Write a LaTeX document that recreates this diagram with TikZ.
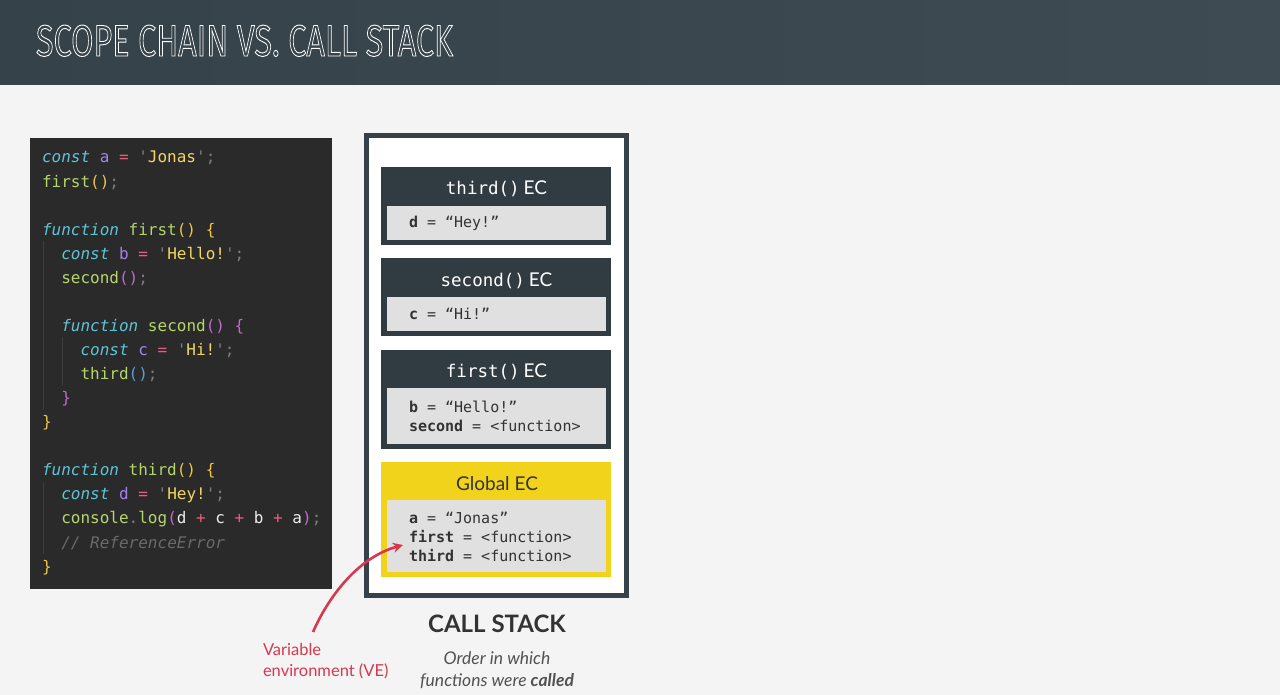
\documentclass[tikz,border=0pt]{standalone}
\usepackage{fontspec}
\usepackage{graphicx}
\usetikzlibrary{arrows.meta}
\setmainfont{Lato}
\setmonofont{DejaVu Sans Mono}
\newfontfamily\titlefont{Fira Sans}

% palette
\definecolor{bgcol}{HTML}{F4F4F4}
\definecolor{hdrA}{HTML}{35424A}
\definecolor{hdrB}{HTML}{3F4B52}
\definecolor{panelcol}{HTML}{2A2A2A}
\definecolor{guidecol}{HTML}{3E3E3E}
\definecolor{kwcol}{HTML}{5EC4D6}
\definecolor{varcol}{HTML}{A183F0}
\definecolor{opcol}{HTML}{EE5A80}
\definecolor{strcol}{HTML}{F2D665}
\definecolor{punct}{HTML}{7D7D7D}
\definecolor{fncol}{HTML}{B5D56E}
\definecolor{plaincol}{HTML}{ECECEC}
\definecolor{cmtcol}{HTML}{6A6A6A}
\definecolor{lvA}{HTML}{ECC443}
\definecolor{lvB}{HTML}{C268CC}
\definecolor{lvC}{HTML}{5A9DD8}
\definecolor{framecol}{HTML}{36424A}
\definecolor{ecdark}{HTML}{313C42}
\definecolor{ecinner}{HTML}{E0E0E0}
\definecolor{ecyellow}{HTML}{F2D31C}
\definecolor{inktext}{HTML}{333333}
\definecolor{vecol}{HTML}{D6384F}

% syntax highlighting helpers
\newcommand\ckw[1]{\textcolor{kwcol}{\itshape #1}}
\newcommand\cvr[1]{\textcolor{varcol}{#1}}
\newcommand\cop[1]{\textcolor{opcol}{#1}}
\newcommand\cst[1]{\textcolor{punct}{\char39}\textcolor{strcol}{#1}\textcolor{punct}{\char39}}
\newcommand\cfn[1]{\textcolor{fncol}{#1}}
\newcommand\cpa[2]{\textcolor{#1}{#2}}
\newcommand\csm{\textcolor{punct}{;}}
\newcommand\cpl[1]{\textcolor{plaincol}{#1}}
\newcommand\ccm[1]{\textcolor{cmtcol}{\itshape #1}}

% outlined lettering for the heading
\newcommand\outlined[1]{\special{pdf:literal direct 1 Tr 0.9 w 1 1 1 RG}#1\special{pdf:literal direct 0 Tr}}

\begin{document}
\begin{tikzpicture}[x=1pt,y=-1pt,
  every node/.style={inner sep=0pt,outer sep=0pt},
  codeline/.style={anchor=base west,text=plaincol,font=\fontsize{16}{19}\ttfamily},
  guide/.style={draw=guidecol,line width=0.8pt},
  stackframe/.style={draw=framecol,line width=5pt,fill=white,minimum width=260pt,minimum height=460pt},
  ecbox/.style={fill=ecdark,minimum width=230pt},
  globalbox/.style={fill=ecyellow,minimum width=230pt},
  varbox/.style={fill=ecinner,minimum width=219pt},
  ectitle/.style={anchor=base,text=white},
  ecvar/.style={anchor=base west,align=left,text=inktext,font=\fontsize{15}{19}\ttfamily},
  vearrow/.style={draw=vecol,line width=2.6pt,-{Stealth[length=10pt,width=10pt]}}
]
\useasboundingbox (0,0) rectangle (1280,695);
\fill[bgcol] (0,0) rectangle (1280,695);
\shade[left color=hdrA,right color=hdrB] (0,0) rectangle (1280,85);

% heading
\node[anchor=base west,text=white] (heading) at (36,56)
  {\resizebox{417pt}{31pt}{\titlefont\fontsize{43}{43}\selectfont\outlined{SCOPE CHAIN VS. CALL STACK}}};

% code panel
\node[fill=panelcol,minimum width=302pt,minimum height=451pt] (code) at (181,363.5) {};
\draw[guide] (43,241) -- (43,409);
\draw[guide] (62,337) -- (62,385);
\draw[guide] (43,482) -- (43,554);

\node[codeline] (l0)  at (42,163)    {\ckw{const} \cvr{a} \cop{=} \cst{Jonas}\csm};
\node[codeline] (l1)  at (42,187.1)  {\cfn{first}\cpa{lvA}{()}\csm};
\node[codeline] (l3)  at (42,235.2)  {\ckw{function} \cfn{first}\cpa{lvA}{()} \cpa{lvA}{\{}};
\node[codeline] (l4)  at (61.3,259.2) {\ckw{const} \cvr{b} \cop{=} \cst{Hello!}\csm};
\node[codeline] (l5)  at (61.3,283.3) {\cfn{second}\cpa{lvB}{()}\csm};
\node[codeline] (l7)  at (61.3,331.4) {\ckw{function} \cfn{second}\cpa{lvB}{()} \cpa{lvB}{\{}};
\node[codeline] (l8)  at (80.5,355.5) {\ckw{const} \cvr{c} \cop{=} \cst{Hi!}\csm};
\node[codeline] (l9)  at (80.5,379.5) {\cfn{third}\cpa{lvC}{()}\csm};
\node[codeline] (l10) at (61.3,403.6) {\cpa{lvB}{\}}};
\node[codeline] (l11) at (42,427.7)  {\cpa{lvA}{\}}};
\node[codeline] (l13) at (42,475.8)  {\ckw{function} \cfn{third}\cpa{lvA}{()} \cpa{lvA}{\{}};
\node[codeline] (l14) at (61.3,499.8) {\ckw{const} \cvr{d} \cop{=} \cst{Hey!}\csm};
\node[codeline] (l15) at (61.3,523.9) {\cfn{console}\textcolor{punct}{.}\cfn{log}\cpa{lvB}{(}\cpl{d} \cop{+} \cpl{c} \cop{+} \cpl{b} \cop{+} \cpl{a}\cpa{lvB}{)}\csm};
\node[codeline] (l16) at (61.3,548.0) {\ccm{// ReferenceError}};
\node[codeline] (l17) at (42,572.0)  {\cpa{lvA}{\}}};

% call stack
\node[stackframe] (stack) at (496.5,365.5) {};

\node[ecbox,minimum height=78pt] (ecthird) at (496,206) {};
\node[varbox,minimum height=34pt] (vethird) at (496.5,223) {};
\node[ectitle] (tthird) at (496.5,195) {\fontsize{17.5}{20}\ttfamily third()\hspace{4pt}\fontsize{19}{22}\rmfamily EC};
\node[ecvar] (dthird) at (409,228) {\textbf{d} = “Hey!”};

\node[ecbox,minimum height=78pt] (ecsecond) at (496,297) {};
\node[varbox,minimum height=34pt] (vesecond) at (496.5,314) {};
\node[ectitle] (tsecond) at (496.5,286) {\fontsize{17.5}{20}\ttfamily second()\hspace{4pt}\fontsize{19}{22}\rmfamily EC};
\node[ecvar] (dsecond) at (409,319) {\textbf{c} = “Hi!”};

\node[ecbox,minimum height=99pt] (ecfirst) at (496,399.5) {};
\node[varbox,minimum height=56pt] (vefirst) at (496.5,416) {};
\node[ectitle] (tfirst) at (496.5,377) {\fontsize{17.5}{20}\ttfamily first()\hspace{4pt}\fontsize{19}{22}\rmfamily EC};
% a multi-line node sits on the baseline of its last line
\node[ecvar] (dfirst) at (409,431) {\textbf{b} = “Hello!”\\[0pt]\textbf{second} = <function>};

\node[globalbox,minimum height=115pt] (ecglobal) at (496,519.5) {};
\node[varbox,minimum height=72pt] (veglobal) at (496.5,536) {};
\node[ectitle,text=inktext] (tglobal) at (497,490) {\fontsize{19}{22}\selectfont Global EC};
\node[ecvar] (dglobal) at (409,561) {\textbf{a} = “Jonas”\\[0pt]\textbf{first} = <function>\\[0pt]\textbf{third} = <function>};

% captions
\node[anchor=base,text=inktext,font=\fontsize{24}{28}\bfseries] (cstitle) at (497,632) {CALL STACK};
\node[anchor=north,align=center,text=inktext!85,font=\fontsize{17.5}{22}\itshape] (csnote) at (497,652)
  {Order in which\\functions were \textbf{called}};

% variable environment pointer
\node[anchor=north west,align=left,text=vecol,font=\fontsize{16.5}{21}\selectfont] (velabel) at (263,643.5)
  {Variable\\environment (VE)};
\coordinate (vestart) at (313,632);
\coordinate (vetarget) at (403,545);
\draw[vearrow] (vestart) .. controls (327,600) and (356,558) .. (vetarget);
\end{tikzpicture}
\end{document}
